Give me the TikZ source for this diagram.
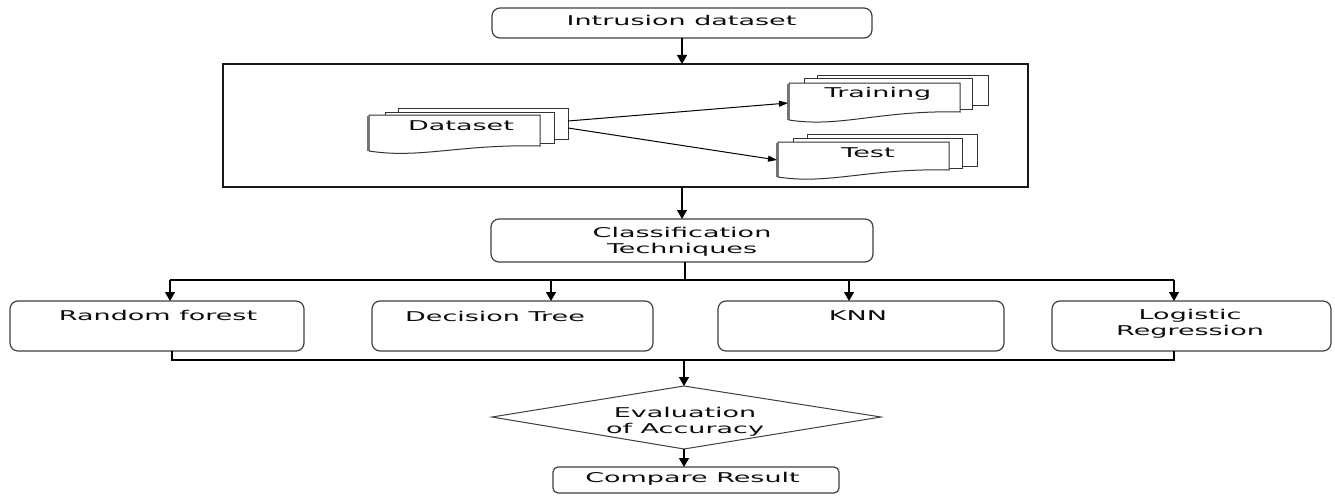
\documentclass[tikz,border=0pt]{standalone}
\usepackage{fontspec}
\setmainfont[FakeStretch=2.0]{DejaVu Sans}
\usetikzlibrary{arrows.meta}
\tikzset{
  box/.style={draw=black!75, line width=1.2pt, rounded corners=8pt, fill=white, inner sep=0pt, outer sep=0pt},
  frame/.style={draw=black!90, line width=1.3pt, inner sep=0pt, outer sep=0pt},
  lbl/.style={font=\fontsize{13.5}{15.8}\selectfont, text=black!95, align=center, inner sep=0pt, anchor=base},
  conn/.style={draw=black, line width=1.3pt},
  arr/.style={conn, -{Triangle[length=9pt,width=10pt]}},
  thinarr/.style={draw=black, line width=1pt, -{Triangle[length=9pt,width=6pt]}},
  docl/.style={draw=black!80, line width=1pt, fill=white},
  docshadow/.style={draw=black!55, line width=2.4pt},
}
\begin{document}
\begin{tikzpicture}[x=1pt,y=-1pt]
\useasboundingbox (0,0) rectangle (1335,495);

% top box
\node[box, minimum width=380pt, minimum height=30pt] (intr) at (682,23) {};
\node[lbl] (intrT) at (681.5,25.5) {Intrusion dataset};

% big frame
\node[frame, draw, minimum width=805pt, minimum height=123pt] (big) at (625.5,125.5) {};
\draw[arr] (intr.south) -- (intr.south |- big.north);

% Dataset stack
\draw[docl] (398,108) rectangle (568,139);
\draw[docl] (385,112) rectangle (554,143);
\draw[docl] (369,115) -- (540,115) -- (540,146) .. controls (460,144) and (420,159) .. (369,151) -- cycle;
\draw[docshadow] (368,116) -- (368,151);
\node[lbl] (dsT) at (461,130.5) {Dataset};

% Training stack
\draw[docl] (817,75) rectangle (988,105);
\draw[docl] (804,78) rectangle (972,109);
\draw[docl] (789,83) -- (960,83) -- (960,112) .. controls (880,110) and (840,128) .. (789,120) -- cycle;
\draw[docshadow] (788,84) -- (788,120);
\node[lbl] (trT) at (878,97) {Training};

% Test stack
\draw[docl] (807,134) rectangle (977,166);
\draw[docl] (793,138) rectangle (962,168);
\draw[docl] (778,142) -- (949,142) -- (949,170) .. controls (869,168) and (829,185) .. (778,177) -- cycle;
\draw[docshadow] (777,143) -- (777,177);
\node[lbl] (teT) at (868,157) {Test};

\coordinate (dsOut1) at (568,121);
\coordinate (dsOut2) at (568,128);
\coordinate (trIn) at (788,103);
\coordinate (teIn) at (777,160);
\draw[thinarr] (dsOut1) -- (trIn);
\draw[thinarr] (dsOut2) -- (teIn);

% classification
\node[box, minimum width=382pt, minimum height=43pt] (cls) at (682,240.5) {};
\node[lbl] (clsT) at (682,253) {Classification\\Techniques};
\draw[arr] (big.south -| cls.north) -- (cls.north);

% branch
\coordinate (brC) at (685,280);
\coordinate (brL) at (170,280);
\coordinate (brD) at (551,280);
\coordinate (brK) at (849,280);
\coordinate (brR) at (1174,280);
\draw[conn] (cls.south -| brC) -- (brC);
\draw[conn] (brL) -- (brR);

% four boxes
\node[box, minimum width=294pt, minimum height=50pt] (rf) at (157,326) {};
\node[box, minimum width=281pt, minimum height=50pt] (dt) at (512.5,326) {};
\node[box, minimum width=286pt, minimum height=50pt] (knn) at (861,326) {};
\node[box, minimum width=279pt, minimum height=50pt] (lr) at (1191.5,326) {};
\node[lbl] (rfT) at (158,320.7) {Random forest};
\node[lbl] (dtT) at (495,321.7) {Decision Tree};
\node[lbl] (knnT) at (858,320) {KNN};
\node[lbl] (lrT) at (1190,335.5) {Logistic\\Regression};

\draw[arr] (brL) -- (brL |- rf.north);
\draw[arr] (brD) -- (brD |- dt.north);
\draw[arr] (brK) -- (brK |- knn.north);
\draw[arr] (brR) -- (brR |- lr.north);

% merge
\coordinate (bL) at (172,360);
\coordinate (bC) at (684,360);
\coordinate (bR) at (1174,360);
\draw[conn] (bL |- rf.south) -- (bL) -- (bR) -- (bR |- lr.south);

% diamond
\coordinate (evT) at (684,386);
\coordinate (evR) at (881,417);
\coordinate (evB) at (684,449);
\coordinate (evL) at (492,417);
\draw[draw=black!75, line width=1pt, fill=white] (evT) -- (evR) -- (evB) -- (evL) -- cycle;
\node[lbl] (evalT) at (685,433) {Evaluation\\of Accuracy};
\draw[arr] (bC) -- (evT);

% compare
\node[box, rounded corners=5pt, minimum width=286pt, minimum height=26pt] (cmp) at (696,480) {};
\node[lbl] (cmpT) at (692.5,482.7) {Compare Result};
\draw[arr] (evB) -- (evB |- cmp.north);
\end{tikzpicture}
\end{document}
